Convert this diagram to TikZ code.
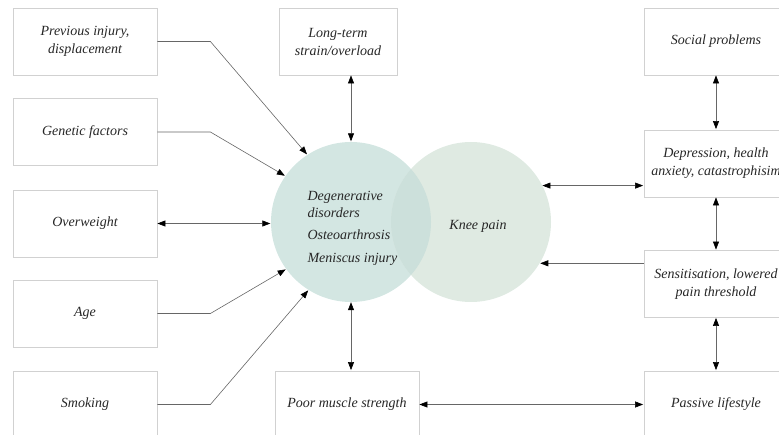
\documentclass[tikz,border=0pt]{standalone}
\usepackage{fontspec}
\setmainfont{Liberation Serif}
\usepackage{tikz}
\usepackage{xcolor}
\usetikzlibrary{arrows.meta, calc, positioning}
\definecolor{boxgrey}{rgb}{0.82, 0.82, 0.82}
\definecolor{linegrey}{rgb}{0.40, 0.40, 0.40}
\definecolor{degenteal}{rgb}{0.827, 0.902, 0.886}
\definecolor{kneegreen}{rgb}{0.875, 0.918, 0.886}
\definecolor{overlapteal}{rgb}{0.800, 0.878, 0.859}
\tikzset{factor/.style={draw=boxgrey, line width=0.8pt, rectangle, minimum width=144pt, minimum height=67pt, inner sep=0pt, align=center, font=\fontsize{14}{18}\selectfont\itshape, text=black!85}}
\tikzset{bubble/.style={circle, minimum size=160pt, inner sep=0pt}}
\tikzset{link/.style={color=linegrey, line width=0.6pt, -{Triangle[length=8pt, width=6pt, color=black]}, shorten >=0.5pt}}
\tikzset{dlink/.style={link, {Triangle[length=8pt, width=6pt, color=black]}-{Triangle[length=8pt, width=6pt, color=black]}}}

\begin{document}
\begin{tikzpicture}[x=1pt, y=-1pt]
        \useasboundingbox (0, 0) rectangle (779, 435);

        % the two circles
        \node [bubble, fill=degenteal] (Degen) at (351, 222) {};
        \node [bubble, fill=kneegreen]  (Knee)  at (471, 222) {};
        \begin{scope}
            \clip (351, 222) circle (80);
            \fill [overlapteal] (471, 222) circle (80);
        \end{scope}
        \node [font=\fontsize{14}{17}\selectfont\itshape, text=black!85, align=left, anchor=west] (DegenText) at (304, 228)
            {Degenerative\\disorders\\[5pt]Osteoarthrosis\\[6pt]Meniscus injury};
        \node [font=\fontsize{14}{17}\selectfont\itshape, text=black!85] (KneeText) at (478, 226) {Knee pain};

        % boxes on the left
        \node [factor] (Prev)  at (85, 41.5)  {Previous injury,\\displacement};
        \node [factor] (Gene)  at (85, 132)   {Genetic factors};
        \node [factor] (Over)  at (85, 223.5) {Overweight};
        \node [factor] (Age)   at (85, 313.5) {Age};
        \node [factor] (Smoke) at (85, 404.5) {Smoking};

        % boxes in the middle
        \node [factor, minimum width=118pt] (Long) at (338, 41.5)  {Long-term\\strain/overload};
        \node [factor]                      (Poor) at (347, 404.5) {Poor muscle strength};

        % boxes on the right
        \node [factor] (Social) at (716, 41.5)  {Social problems};
        \node [factor] (Depr)   at (716, 163.5) {Depression, health\\anxiety, catastrophisim};
        \node [factor] (Sens)   at (716, 284)   {Sensitisation, lowered\\pain threshold};
        \node [factor] (Pass)   at (716, 404.5) {Passive lifestyle};

        \draw [link]  (Prev.east)  -- ++(53, 0) -- (Degen.123);
        \draw [link]  (Gene.east)  -- ++(53, 0) -- (Degen.145);
        \draw [dlink] (Over.east)  -- (Over.east -| Degen.west);
        \draw [link]  (Age.east)   -- ++(53, 0) -- (Degen.216);
        \draw [link]  (Smoke.east) -- ++(53, 0) -- (Degen.238);

        \draw [dlink] (Long.south -| Degen.north) -- (Degen.north);
        \draw [dlink] (Degen.south) -- (Degen.south |- Poor.north);
        \draw [dlink] (Poor.east) -- (Pass.west);

        \draw [dlink] (Knee.27.5) -- (Knee.27.5 -| Depr.west);
        \draw [link]  (Knee.-31 -| Sens.west) -- (Knee.-31);

        \draw [dlink] (Social.south) -- (Depr.north);
        \draw [dlink] (Depr.south)   -- (Sens.north);
        \draw [dlink] (Sens.south)   -- (Pass.north);
    \end{tikzpicture}
\end{document}
